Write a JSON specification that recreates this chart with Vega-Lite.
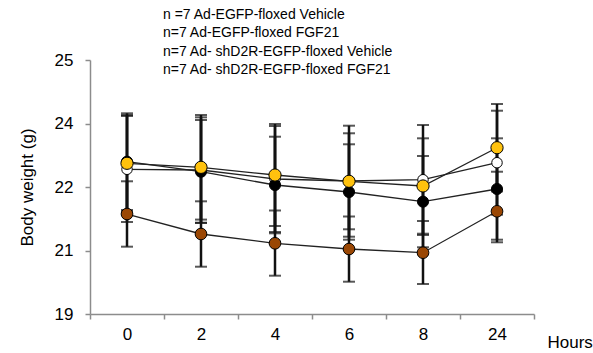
{
  "$schema": "https://vega.github.io/schema/vega-lite/v6.json",
  "width": 444,
  "height": 254,
  "autosize": "none",
  "padding": {"left": 90, "top": 60, "right": 59, "bottom": 39},
  "background": "white",
  "title": {
    "text": ["n =7 Ad-EGFP-floxed Vehicle", "n=7 Ad-EGFP-floxed FGF21", "n=7 Ad- shD2R-EGFP-floxed Vehicle", "n=7 Ad- shD2R-EGFP-floxed FGF21"],
    "anchor": "start",
    "frame": "group",
    "font": "Liberation Sans",
    "fontSize": 14,
    "fontWeight": "normal",
    "color": "#000000",
    "lineHeight": 18.5,
    "baseline": "top",
    "dx": 73,
    "dy": 26,
    "offset": 0
  },
  "data": {
    "values": [
      {"series": "Ad-EGFP-floxed Vehicle", "hour": "0", "mean": 22.418, "lo": 21.173, "hi": 23.677},
      {"series": "Ad-EGFP-floxed Vehicle", "hour": "2", "mean": 22.402, "lo": 21.157, "hi": 23.646},
      {"series": "Ad-EGFP-floxed Vehicle", "hour": "4", "mean": 22.189, "lo": 20.937, "hi": 23.441},
      {"series": "Ad-EGFP-floxed Vehicle", "hour": "6", "mean": 22.142, "lo": 20.826, "hi": 23.448},
      {"series": "Ad-EGFP-floxed Vehicle", "hour": "8", "mean": 22.172, "lo": 20.866, "hi": 23.465},
      {"series": "Ad-EGFP-floxed Vehicle", "hour": "24", "mean": 22.574, "lo": 21.346, "hi": 23.802},
      {"series": "Ad-EGFP-floxed FGF21", "hour": "0", "mean": 22.598, "lo": 21.457, "hi": 23.741},
      {"series": "Ad-EGFP-floxed FGF21", "hour": "2", "mean": 22.361, "lo": 21.150, "hi": 23.583},
      {"series": "Ad-EGFP-floxed FGF21", "hour": "4", "mean": 22.047, "lo": 20.906, "hi": 23.188},
      {"series": "Ad-EGFP-floxed FGF21", "hour": "6", "mean": 21.882, "lo": 20.755, "hi": 23.009},
      {"series": "Ad-EGFP-floxed FGF21", "hour": "8", "mean": 21.653, "lo": 20.576, "hi": 22.732},
      {"series": "Ad-EGFP-floxed FGF21", "hour": "24", "mean": 21.953, "lo": 20.755, "hi": 23.150},
      {"series": "Ad- shD2R-EGFP-floxed Vehicle", "hour": "0", "mean": 21.362, "lo": 20.590, "hi": 22.135},
      {"series": "Ad- shD2R-EGFP-floxed Vehicle", "hour": "2", "mean": 20.890, "lo": 20.117, "hi": 21.662},
      {"series": "Ad- shD2R-EGFP-floxed Vehicle", "hour": "4", "mean": 20.670, "lo": 19.905, "hi": 21.445},
      {"series": "Ad- shD2R-EGFP-floxed Vehicle", "hour": "6", "mean": 20.535, "lo": 19.763, "hi": 21.303},
      {"series": "Ad- shD2R-EGFP-floxed Vehicle", "hour": "8", "mean": 20.448, "lo": 19.709, "hi": 21.197},
      {"series": "Ad- shD2R-EGFP-floxed Vehicle", "hour": "24", "mean": 21.426, "lo": 20.694, "hi": 22.361},
      {"series": "Ad- shD2R-EGFP-floxed FGF21", "hour": "0", "mean": 22.560, "lo": 21.419, "hi": 23.701},
      {"series": "Ad- shD2R-EGFP-floxed FGF21", "hour": "2", "mean": 22.465, "lo": 21.230, "hi": 23.701},
      {"series": "Ad- shD2R-EGFP-floxed FGF21", "hour": "4", "mean": 22.283, "lo": 21.079, "hi": 23.488},
      {"series": "Ad- shD2R-EGFP-floxed FGF21", "hour": "6", "mean": 22.135, "lo": 21.001, "hi": 23.269},
      {"series": "Ad- shD2R-EGFP-floxed FGF21", "hour": "8", "mean": 22.024, "lo": 20.897, "hi": 23.150},
      {"series": "Ad- shD2R-EGFP-floxed FGF21", "hour": "24", "mean": 22.928, "lo": 21.896, "hi": 23.961}
    ]
  },
  "encoding": {
    "x": {
      "field": "hour",
      "type": "ordinal",
      "sort": ["0", "2", "4", "6", "8", "24"],
      "scale": {"type": "band", "paddingInner": 0, "paddingOuter": 0},
      "axis": {
        "title": "Hours",
        "titleX": 457,
        "titleY": 28,
        "titleAlign": "left",
        "titleBaseline": "middle",
        "titleAngle": 0,
        "titleFontSize": 17,
        "titleFontWeight": "normal",
        "titleFont": "Liberation Sans",
        "titleColor": "#000000",
        "tickBand": "extent",
        "labelAngle": 0,
        "labelPadding": 7,
        "labelFontSize": 17,
        "labelFont": "Liberation Sans",
        "labelColor": "#000000",
        "domainColor": "#8c8c8c",
        "domainWidth": 1.5,
        "tickColor": "#8c8c8c",
        "tickWidth": 1.5,
        "tickSize": 5
      }
    }
  },
  "layer": [
    {
      "mark": {
        "type": "errorbar",
        "ticks": {"size": 12, "thickness": 2, "color": "#111111"},
        "rule": {"strokeWidth": 2.5, "color": "#111111"}
      },
      "encoding": {
        "y": {
          "field": "lo",
          "type": "quantitative",
          "scale": {"domain": [19, 25], "nice": false, "zero": false},
          "axis": {
            "title": "Body weight (g)",
            "titleFontSize": 17,
            "titleFontWeight": "normal",
            "titleFont": "Liberation Sans",
            "titleColor": "#000000",
            "titlePadding": 18,
            "values": [19, 20.5, 22, 23.5, 25],
            "labelExpr": "datum.value == 20.5 ? '21' : datum.value == 23.5 ? '24' : datum.label",
            "labelPadding": 12,
            "labelFontSize": 17,
            "labelFont": "Liberation Sans",
            "labelColor": "#000000",
            "grid": false,
            "domainColor": "#8c8c8c",
            "domainWidth": 1.5,
            "tickColor": "#8c8c8c",
            "tickWidth": 1.5,
            "tickSize": 5
          }
        },
        "y2": {"field": "hi"},
        "detail": {"field": "series"}
      }
    },
    {
      "mark": {"type": "line", "color": "#222222", "strokeWidth": 1.3},
      "encoding": {
        "y": {"field": "mean", "type": "quantitative"},
        "detail": {"field": "series"}
      }
    },
    {
      "mark": {"type": "point", "filled": true, "stroke": "#000000", "strokeWidth": 1, "opacity": 1},
      "encoding": {
        "y": {"field": "mean", "type": "quantitative"},
        "fill": {
          "field": "series",
          "type": "nominal",
          "scale": {
            "domain": ["Ad-EGFP-floxed Vehicle", "Ad-EGFP-floxed FGF21", "Ad- shD2R-EGFP-floxed Vehicle", "Ad- shD2R-EGFP-floxed FGF21"],
            "range": ["#ffffff", "#000000", "#9a4704", "#ffc20e"]
          },
          "legend": null
        },
        "size": {
          "field": "series",
          "type": "nominal",
          "scale": {
            "domain": ["Ad-EGFP-floxed Vehicle", "Ad-EGFP-floxed FGF21", "Ad- shD2R-EGFP-floxed Vehicle", "Ad- shD2R-EGFP-floxed FGF21"],
            "range": [110, 150, 110, 110]
          },
          "legend": null
        }
      }
    }
  ],
  "config": {
    "view": {"stroke": null}
  }
}
